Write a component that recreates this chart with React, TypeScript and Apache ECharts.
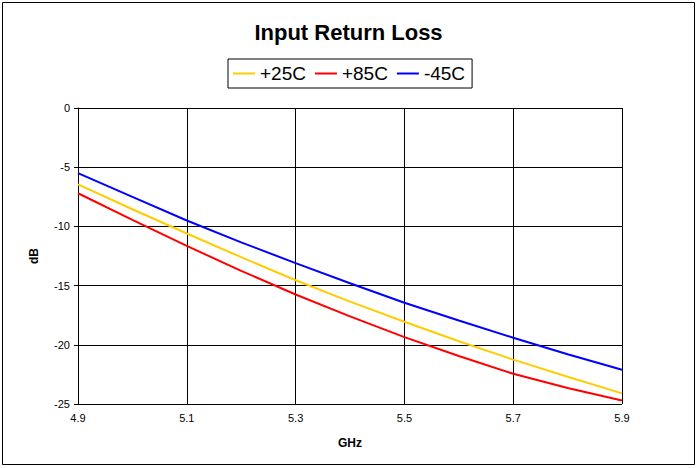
import React, { useEffect, useRef } from "react";
import * as echarts from "echarts";

const freqs = ["4.9", "5.0", "5.1", "5.2", "5.3", "5.4", "5.5", "5.6", "5.7", "5.8", "5.9"];
const s25 = [-6.45, -8.55, -10.6, -12.6, -14.55, -16.35, -18.05, -19.7, -21.25, -22.7, -24.1];
const s85 = [-7.2, -9.45, -11.65, -13.75, -15.75, -17.6, -19.35, -20.95, -22.45, -23.65, -24.7];
const sm45 = [-5.5, -7.5, -9.5, -11.35, -13.1, -14.8, -16.45, -17.95, -19.4, -20.8, -22.1];

const FONT = "'Liberation Sans', Arial, sans-serif";

export default function App() {
  const ref = useRef<HTMLDivElement>(null);
  useEffect(() => {
    if (!ref.current) return;
    const chart = echarts.init(ref.current, undefined, { renderer: "svg" });
    chart.setOption({
      animation: false,
      backgroundColor: "#fff",
      textStyle: { fontFamily: FONT, color: "#000" },
      title: {
        text: "Input Return Loss",
        left: "center",
        top: 16,
        textStyle: { fontFamily: FONT, fontSize: 22, fontWeight: "bold", color: "#000" },
      },
      legend: {
        top: 59,
        left: 228,
        icon: "rect",
        itemWidth: 22,
        itemHeight: 2,
        itemGap: 9,
        padding: [5, 7, 5, 5],
        borderColor: "#000",
        borderWidth: 1,
        textStyle: { fontFamily: FONT, fontSize: 19, color: "#000" },
        data: ["+25C", "+85C", "-45C"],
      },
      graphic: [
        {
          type: "rect",
          shape: { x: 2.5, y: 2.5, width: 692, height: 462 },
          style: { fill: "none", stroke: "#000", lineWidth: 1 },
          silent: true,
        },
      ],
      grid: { left: 78, right: 75, top: 108, bottom: 64 },
      xAxis: {
        type: "category",
        data: freqs,
        boundaryGap: false,
        name: "GHz",
        nameLocation: "middle",
        nameGap: 33,
        nameTextStyle: { fontFamily: FONT, fontSize: 12, fontWeight: "bold", color: "#000" },
        axisLine: { lineStyle: { color: "#000", width: 1 } },
        axisTick: { show: true, interval: 1, length: 4, lineStyle: { color: "#000" } },
        axisLabel: { interval: 1, fontSize: 11, color: "#000", margin: 8, fontFamily: FONT },
        splitLine: { show: true, interval: 1, lineStyle: { color: "#000", width: 1 } },
      },
      yAxis: {
        type: "value",
        min: -25,
        max: 0,
        interval: 5,
        name: "dB",
        nameLocation: "middle",
        nameGap: 38,
        nameRotate: 90,
        nameTextStyle: { fontFamily: FONT, fontSize: 12, fontWeight: "bold", color: "#000" },
        axisLine: { show: true, lineStyle: { color: "#000", width: 1 } },
        axisTick: { show: true, length: 4, lineStyle: { color: "#000" } },
        axisLabel: { fontSize: 11, color: "#000", margin: 8, fontFamily: FONT },
        splitLine: { show: true, lineStyle: { color: "#000", width: 1 } },
      },
      series: [
        { name: "+25C", type: "line", data: s25, showSymbol: false, color: "#FFCC00", lineStyle: { width: 2 } },
        { name: "+85C", type: "line", data: s85, showSymbol: false, color: "#FF0000", lineStyle: { width: 2 } },
        { name: "-45C", type: "line", data: sm45, showSymbol: false, color: "#0000FF", lineStyle: { width: 2 } },
      ],
    });
    return () => chart.dispose();
  }, []);
  return (
    <div
      ref={ref}
      style={{ position: "fixed", left: 0, top: 0, width: 697, height: 468, background: "#fff" }}
    />
  );
}
